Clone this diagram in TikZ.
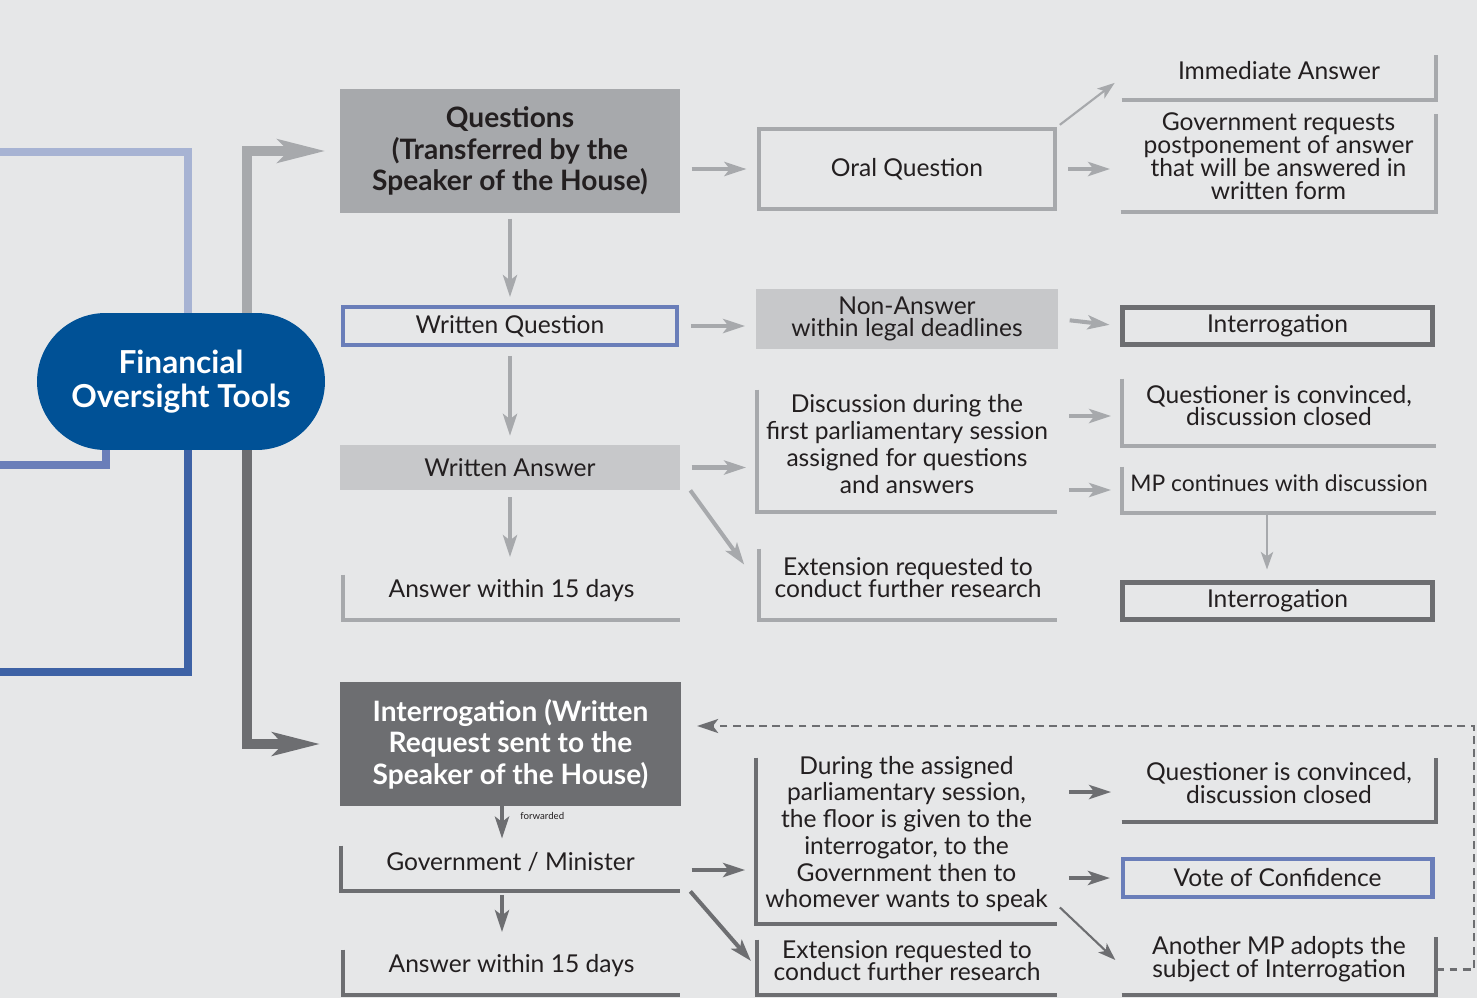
\documentclass[tikz,border=0pt]{standalone}
\usepackage{fontspec}
\setmainfont{Lato}
\usetikzlibrary{arrows.meta}

\definecolor{bgc}{RGB}{230,231,232}
\definecolor{txt}{RGB}{35,31,32}
\definecolor{lightgrey}{RGB}{199,200,202}
\definecolor{midgrey}{RGB}{167,169,172}
\definecolor{darkgrey}{RGB}{109,110,113}
\definecolor{navy}{RGB}{0,81,150}
\definecolor{blueA}{RGB}{167,179,211}
\definecolor{blueB}{RGB}{106,126,185}
\definecolor{blueC}{RGB}{62,98,165}

\tikzset{
  body/.style={font=\fontsize{14}{15.5}\selectfont, align=center, inner sep=0pt, text=txt},
  tight/.style={font=\fontsize{14}{13}\selectfont},
  headbox/.style={body, font=\bfseries\fontsize{16}{18}\selectfont, minimum width=6.8cm, minimum height=2.48cm},
  greyfill/.style={body, fill=lightgrey},
  greyframe/.style={body, draw=midgrey, line width=2.3pt},
  darkframe/.style={body, draw=darkgrey, line width=2.8pt, minimum width=6.2cm, minimum height=0.74cm},
  blueframe/.style={body, draw=blueB, line width=2.3pt},
  brk/.style={body},
  brkline/.style={line width=2.3pt},
  flow/.style={line width=2.3pt, -{Stealth[length=12.5pt,width=8pt,inset=3pt]}, shorten <=6.5pt, shorten >=6pt},
  thinflow/.style={line width=1.2pt, -{Stealth[length=10pt,width=7pt,inset=2.5pt]}, shorten <=2pt, shorten >=5pt},
  bigflow/.style={line width=5.7pt, -{Stealth[length=27pt,width=13pt,inset=6pt]}}
}
% brackets: text sits 4pt above the middle of the bracket
\newcommand{\lbrk}[2]{\draw[brkline,#2] ([yshift=-4pt]#1.north west) |- ([yshift=-4pt]#1.south east);}
\newcommand{\rbrk}[2]{\draw[brkline,#2] ([yshift=-4pt]#1.south west) -| ([yshift=-4pt]#1.north east);}

\begin{document}
\begin{tikzpicture}[x=0.02cm,y=-0.02cm]
\fill[bgc] (0,0) rectangle (1477,998);
\useasboundingbox (0,0) rectangle (1477,998);

% centre
\node[body, fill=navy, text=white, font=\bfseries\fontsize{18}{19}\selectfont,
  minimum width=5.76cm, minimum height=2.74cm, rounded corners=1.37cm] (fot) at (181,381.5) {Financial\\Oversight Tools};

% questions
\node[headbox, fill=midgrey] (quest) at (510,151) {Questions\\(Transferred by the\\Speaker of the House)};
\node[blueframe, minimum width=6.7cm, minimum height=0.76cm] (wq) at (510,326) {Written Question};
\node[greyfill, minimum width=6.8cm, minimum height=0.9cm] (wa) at (510,467.5) {Written Answer};
\node[brk, minimum width=6.74cm, minimum height=0.9cm] (ans1) at (511.5,590.5) {Answer within 15 days};

\node[greyframe, minimum width=5.92cm, minimum height=1.6cm] (oral) at (907,169) {Oral Question};
\node[greyfill, tight, minimum width=6.04cm, minimum height=1.2cm] (nonans) at (907,319) {Non-Answer\\within legal deadlines};
\node[brk, minimum width=6cm, minimum height=2.44cm] (disc) at (907,444) {Discussion during the\\first parliamentary session\\assigned for questions\\and answers};
\node[brk, tight, minimum width=5.96cm, minimum height=1.42cm] (ext1) at (908,577.5) {Extension requested to\\conduct further research};

\node[brk, minimum width=6.28cm, minimum height=0.9cm] (imm) at (1279,70.5) {Immediate Answer};
\node[brk, tight, minimum width=6.3cm, minimum height=1.96cm] (govreq) at (1278.5,156) {Government requests\\postponement of answer\\that will be answered in\\written form};
\node[darkframe] (intA) at (1277.5,326) {Interrogation};
\node[brk, tight, minimum width=6.28cm, minimum height=1.34cm] (convA) at (1279,405.5) {Questioner is convinced,\\discussion closed};
\node[brk, font=\fontsize{13}{15}\selectfont, minimum width=6.28cm, minimum height=0.92cm] (mpcont) at (1279,483) {MP continues with discussion};
\node[darkframe] (intB) at (1277.5,601) {Interrogation};

% interrogation
\node[headbox, fill=darkgrey, text=white, minimum width=6.82cm] (intW) at (510.5,744) {Interrogation (Written\\Request sent to the\\Speaker of the House)};
\node[brk, minimum width=6.78cm, minimum height=0.9cm] (govmin) at (510.5,861.5) {Government / Minister};
\node[brk, minimum width=6.74cm, minimum height=0.9cm] (ans2) at (511.5,965.5) {Answer within 15 days};
\node[brk, font=\fontsize{14}{15.2}\selectfont, minimum width=6.02cm, minimum height=3.32cm] (during) at (906.5,834) {During the assigned\\parliamentary session,\\the floor is given to the\\interrogator, to the\\Government then to\\whomever wants to speak};
\node[brk, tight, minimum width=6cm, minimum height=1.1cm] (ext2) at (907,960.5) {Extension requested to\\conduct further research};
\node[brk, tight, minimum width=6.28cm, minimum height=1.28cm] (convB) at (1279,783) {Questioner is convinced,\\discussion closed};
\node[blueframe, minimum width=6.2cm, minimum height=0.76cm] (vote) at (1277.5,878) {Vote of Confidence};
\node[brk, tight, minimum width=6.28cm, minimum height=1.16cm] (another) at (1279,959) {Another MP adopts the\\subject of Interrogation};

% brackets
\lbrk{ans1}{midgrey}
\lbrk{disc}{midgrey}
\lbrk{ext1}{midgrey}
\rbrk{imm}{midgrey}
\rbrk{govreq}{midgrey}
\lbrk{convA}{midgrey}
\lbrk{mpcont}{midgrey}
\lbrk{govmin}{darkgrey}
\lbrk{ans2}{darkgrey}
\lbrk{during}{darkgrey}
\lbrk{ext2}{darkgrey}
\rbrk{convB}{darkgrey}
\rbrk{another}{darkgrey}

% left lines
\draw[blueA, line width=4.5pt] (0,152) -| ([xshift=0.14cm]fot.north);
\draw[blueB, line width=4.5pt] (0,465) -| ([xshift=-1.5cm]fot.south);
\draw[blueC, line width=4.5pt] ([xshift=0.14cm]fot.south) |- (0,672);
\draw[bigflow, midgrey, shorten >=8pt] ([xshift=1.32cm]fot.north) |- (quest.west);
\draw[bigflow, darkgrey, shorten >=11pt] ([xshift=1.32cm]fot.south) |- (intW.west);

% grey flow
\draw[flow, midgrey, shorten <=3pt, shorten >=4.5pt] (quest) -- (wq);
\draw[flow, midgrey, shorten <=5pt, shorten >=5pt] (wq) -- (wa);
\draw[flow, midgrey, shorten <=4pt, shorten >=6pt] (wa) -- (wa.south |- ans1.north);
\draw[flow, midgrey] (quest.east |- oral) -- (oral.west);
\draw[flow, midgrey] (wq.east) -- (nonans.west |- wq);
\draw[flow, midgrey] (wa.east) -- (disc.west |- wa);
\draw[flow, midgrey, shorten <=0pt, shorten >=14pt] ([xshift=0.2cm]wa.south east) -- ([yshift=-4pt]ext1.west);
\draw[thinflow, midgrey] (oral.north east) -- ([yshift=-4pt]imm.west);
\draw[flow, midgrey] (oral.east) -- (govreq.west |- oral);
\draw[flow, midgrey] (nonans.east) -- (intA.west);
\draw[flow, midgrey] (disc.east |- 0,416) -- (convA.west |- 0,416);
\draw[flow, midgrey] (disc.east |- 0,490) -- (mpcont.west |- 0,490);
\draw[thinflow, midgrey, shorten <=4pt, shorten >=6pt] (mpcont.south -| 1267,0) -- (intB.north -| 1267,0);

% dark flow
\draw[flow, darkgrey, shorten <=0pt, shorten >=0pt] (intW.south -| 502,0) -- node[pos=0.3, right=6pt, font=\fontsize{5.5}{6}\selectfont, text=txt] {forwarded} (govmin.north -| 502,0);
\draw[flow, darkgrey, shorten <=6pt, shorten >=6pt] (govmin.south -| 502,0) -- (ans2.north -| 502,0);
\draw[flow, darkgrey] (govmin.east |- 0,870) -- (during.west |- 0,870);
\draw[flow, darkgrey, shorten <=0pt, shorten >=5pt] ([xshift=0.2cm,yshift=-4pt]govmin.south east) -- ([yshift=-4pt]ext2.west);
\draw[flow, darkgrey] (during.east |- 0,792) -- (convB.west |- 0,792);
\draw[flow, darkgrey] (during.east |- vote) -- (vote.west);
\draw[thinflow, darkgrey] (during.east |- 0,905) -- ([yshift=-4pt]another.west);
\coordinate (back) at (1474,726);
\draw[darkgrey, line width=1.3pt, dash pattern=on 4.5pt off 3pt, -{Stealth[length=12pt,width=8pt,inset=3pt]}, shorten >=9pt]
  ([yshift=-6pt]another.east) -| (back) -- (intW.east |- back);
\end{tikzpicture}
\end{document}
